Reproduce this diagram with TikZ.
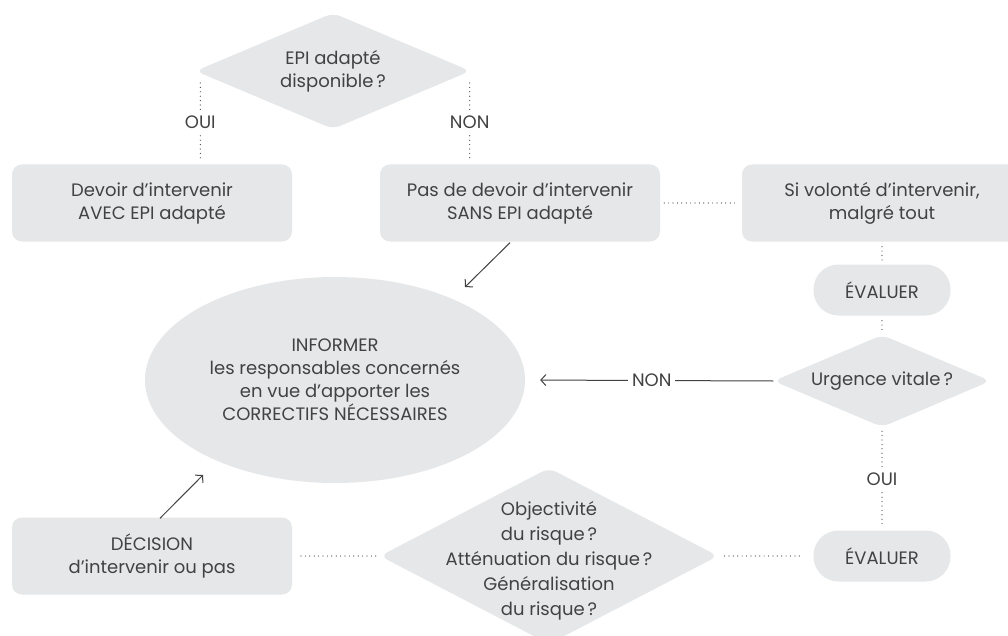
\documentclass[tikz,border=0pt]{standalone}
\usepackage{fontspec}
\setmainfont{Poppins}
\usetikzlibrary{shapes.geometric, arrows.meta}

\definecolor{boxgray}{HTML}{E6E7E8}
\definecolor{inkgray}{HTML}{424242}

\tikzset{
  box/.style={fill=boxgray, rounded corners=10pt, minimum width=280pt, minimum height=77pt, align=center, text=inkgray},
  pill/.style={fill=boxgray, rounded corners=25pt, minimum width=137pt, minimum height=51pt, text=inkgray},
  choice/.style={diamond, fill=boxgray, rounded corners=8pt, inner sep=0pt, aspect=2.4, align=center, text=inkgray},
  dots/.style={inkgray, line width=1.2pt, line cap=round, dash pattern=on 0pt off 4.4pt},
  arr/.style={-{Straight Barb[length=5pt, width=11pt]}, inkgray, line width=1pt},
  lbl/.style={fill=white, text=inkgray, inner sep=4pt}
}

\begin{document}
\begin{tikzpicture}[x=1pt, y=-1pt, font=\fontsize{18}{23}\selectfont]
	\path[fill=white, use as bounding box] (0,0) rectangle (1008,636);
	% top row
	\node[choice, minimum width=275pt, minimum height=116pt] (epi) at (333,71) {EPI adapté\\disponible\,?};
	\node[box] (avec) at (152,203) {Devoir d’intervenir\\AVEC EPI adapté};
	\node[box] (pasdevoir) at (520,203) {Pas de devoir d’intervenir\\SANS EPI adapté};
	\node[box] (volonte) at (882,203) {Si volonté d’intervenir,\\malgré tout};
	\draw[dots] ([xshift=5pt,yshift=-12pt]epi.west) -- ([xshift=5pt,yshift=3pt]epi.west |- avec.north) node[lbl, midway] (oui1) {OUI};
	\draw[dots] ([xshift=-1pt,yshift=-12pt]epi.east) -- ([xshift=-1pt,yshift=3pt]epi.east |- pasdevoir.north) node[lbl, midway] (non1) {NON};
	\draw[dots, shorten <=4pt, shorten >=4pt] (pasdevoir) -- (volonte);
	%
	% right column
	\node[pill] (eval1) at (882,290) {ÉVALUER};
	\node[choice, minimum width=217pt, minimum height=92pt] (urgence) at (882,381) {Urgence vitale\,?};
	\node[pill] (eval2) at (882,556) {ÉVALUER};
	\draw[dots, shorten <=5pt, shorten >=4pt] (volonte) -- (eval1);
	\draw[dots, shorten <=5pt, shorten >=4pt] (eval1) -- (urgence);
	\draw[dots, shorten <=4pt, shorten >=4pt] (urgence) -- (eval2) node[lbl, midway] (oui2) {OUI};
	%
	% centre
	\node[ellipse, fill=boxgray, inner sep=0pt, minimum width=380pt, minimum height=206pt, align=center, text=inkgray] (inform) at (335,380) {INFORMER\\les responsables concernés\\en vue d’apporter les\\CORRECTIFS NÉCESSAIRES};
	\draw[arr, shorten >=15pt] (urgence.west) -- (inform.east) node[lbl, pos=0.49] (non2) {NON};
	\coordinate (infoNE) at (465,287);
	\coordinate (infoSW) at (203,475);
	\draw[arr] ([xshift=-10pt,yshift=-1pt]pasdevoir.south) -- (infoNE);
	%
	% bottom row
	\node[box] (decision) at (152,556) {DÉCISION\\d’intervenir ou pas};
	\node[choice, minimum width=338pt, minimum height=176pt] (risk) at (549,556) {};
	\node[align=center, text=inkgray, font=\fontsize{18}{25}\selectfont] (risktext) at ([yshift=-5pt]risk.center) {Objectivité\\du risque\,?\\Atténuation du risque\,?\\Généralisation\\du risque\,?};
	\draw[dots, shorten <=14pt, shorten >=4pt] (eval2) -- (risk);
	\draw[dots, shorten <=4pt, shorten >=5pt] (risk) -- (decision);
	\draw[arr] ([xshift=8pt,yshift=-1pt]decision.north) -- (infoSW);
\end{tikzpicture}
\end{document}
